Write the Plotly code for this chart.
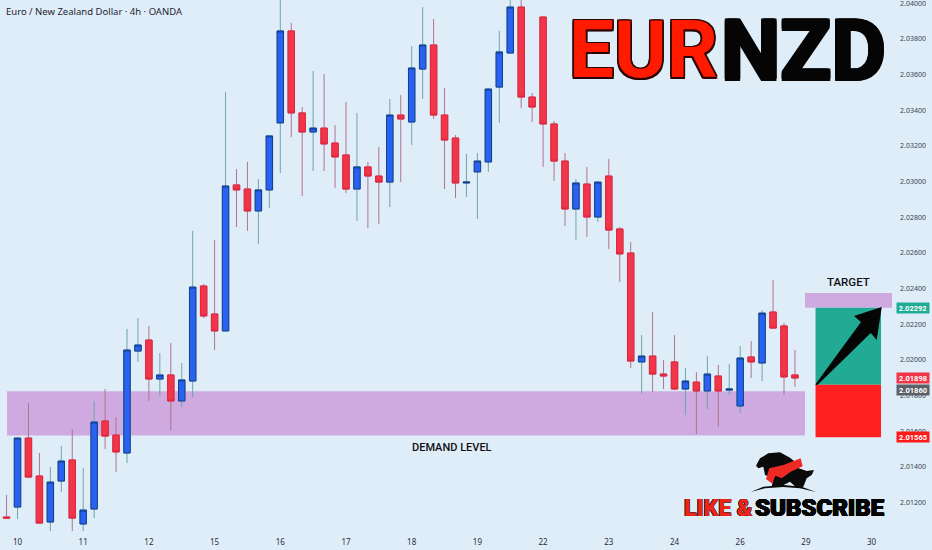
import plotly.graph_objects as go

# ---- data ----
candle_index = list(range(-1, 72))
open_ = [2.01118,2.01174,2.01561,2.01348,2.01090,2.01320,2.01438,2.01079,2.01163,2.01657,2.01578,2.01477,2.02049,2.02111,2.01892,2.01915,2.01769,2.01881,2.02414,2.02257,2.02162,2.02981,2.02958,2.02835,2.02953,2.03329,2.03845,2.03385,2.03278,2.03300,2.03216,2.03149,2.02958,2.03082,2.03031,2.02997,2.03373,2.03334,2.03631,2.03766,2.03373,2.03244,2.02992,2.03054,2.03110,2.03530,2.03721,2.03979,2.03474,2.03923,2.03323,2.03115,2.02846,2.02986,2.02801,2.03031,2.02734,2.02599,2.01988,2.02021,2.01920,2.01988,2.01836,2.01875,2.01825,2.01909,2.01830,2.01741,2.02016,2.01982,2.02268,2.02190,2.01915]
high = [2.01242,2.01561,2.01758,2.01477,2.01399,2.01516,2.01612,2.01393,2.01769,2.01836,2.01679,2.02173,2.02234,2.02190,2.02038,2.02094,2.01982,2.02723,2.02425,2.02672,2.03502,2.03070,2.03110,2.03014,2.03256,2.04075,2.03889,2.03418,2.03620,2.03603,2.03317,2.03446,2.03385,2.03110,2.03194,2.03463,2.03485,2.03760,2.03979,2.03912,2.03525,2.03261,2.03155,2.03160,2.03519,2.03845,2.04047,2.04047,2.03497,2.03923,2.03340,2.03160,2.03014,2.03082,2.02997,2.03126,2.02745,2.02661,2.02139,2.02268,2.01998,2.02139,2.01954,2.01931,2.02021,2.01971,2.01976,2.02077,2.02105,2.02279,2.02448,2.02207,2.02055]
low = [2.01112,2.01107,2.01337,2.01084,2.01039,2.01258,2.01039,2.01039,2.01112,2.01500,2.01371,2.01421,2.01988,2.01769,2.01797,2.01601,2.01735,2.01791,2.02234,2.02055,2.02162,2.02745,2.02723,2.02650,2.02852,2.03048,2.03250,2.02919,2.03059,2.03059,2.02964,2.02936,2.02779,2.02739,2.02762,2.02857,2.02997,2.03205,2.03463,2.03351,2.02958,2.02908,2.02913,2.02790,2.03054,2.03329,2.03721,2.03412,2.03334,2.03082,2.03003,2.02751,2.02672,2.02689,2.02773,2.02622,2.02437,2.01954,2.01808,2.01819,2.01836,2.01830,2.01690,2.01584,2.01724,2.01623,2.01803,2.01702,2.01898,2.01881,2.02173,2.01803,2.01848]
close = [2.01112,2.01561,2.01342,2.01084,2.01314,2.01432,2.01112,2.01157,2.01651,2.01572,2.01483,2.02055,2.02083,2.01892,2.01915,2.01769,2.01887,2.02408,2.02246,2.02162,2.02975,2.02953,2.02835,2.02953,2.03256,2.03845,2.03385,2.03278,2.03300,2.03211,2.03138,2.02958,2.03082,2.03031,2.02997,2.03373,2.03351,2.03637,2.03766,2.03373,2.03233,2.02992,2.02997,2.03115,2.03519,2.03727,2.03979,2.03474,2.03418,2.03323,2.03115,2.02846,2.02992,2.02801,2.02997,2.02728,2.02594,2.01993,2.02021,2.01920,2.01909,2.01836,2.01881,2.01825,2.01920,2.01825,2.01836,2.02010,2.01988,2.02262,2.02178,2.01904,2.01898]

price_ticks = [2.012,2.014,2.016,2.018,2.020,2.022,2.024,2.026,2.028,2.030,2.032,2.034,2.036,2.038,2.040]
day_ticks = list(range(0, 84, 6))
day_labels = ["10","11","12","15","16","17","18","19","22","23","24","26","29","30"]

demand_top, demand_bottom = 2.01823, 2.01576
target_top, target_bottom = 2.02375, 2.02292
entry_price, stop_price = 2.01860, 2.01565
tag_prices = [2.02292, 2.01898, 2.01860, 2.01565]
tag_colors = ["#22ab94", "#f23645", "#5d6066", "#ff1a1a"]
tag_shift = [0, 0, -5, 0]

# ---- layout helpers ----
W, H = 932, 550
BG = "#dfedf9"
def px(x, y):
    return x / W, 1 - y / H
def path(points):
    pts = [px(*p) for p in points]
    return "M" + "L".join(f"{a:.5f},{b:.5f}" for a, b in pts) + "Z"
def zoomed(points):
    return [(740 + a / 3, 445 + b / 3) for a, b in points]

fig = go.Figure()
# wicks
fig.add_trace(go.Candlestick(
    x=candle_index, open=open_, high=high, low=low, close=close,
    increasing=dict(line=dict(color="#6fa6a6", width=1), fillcolor="rgba(0,0,0,0)"),
    decreasing=dict(line=dict(color="#b0738f", width=1), fillcolor="rgba(0,0,0,0)"),
    whiskerwidth=0, showlegend=False, hoverinfo="skip"))
# bodies
fig.add_trace(go.Candlestick(
    x=candle_index, open=open_, close=close,
    high=[max(a, b) for a, b in zip(open_, close)],
    low=[min(a, b) for a, b in zip(open_, close)],
    increasing=dict(line=dict(color="#123f8f", width=1), fillcolor="#2962f0"),
    decreasing=dict(line=dict(color="#e0263c", width=1), fillcolor="#f23548"),
    whiskerwidth=0, showlegend=False, hoverinfo="skip"))

band = "#ceaae0"
shapes = [
    dict(type="rect", xref="x", yref="y", x0=-0.96, x1=71.92, y0=demand_bottom, y1=demand_top,
         fillcolor=band, line_width=0, layer="below"),
    dict(type="rect", xref="x", yref="y", x0=71.92, x1=79.86, y0=target_bottom, y1=target_top,
         fillcolor=band, line_width=0, layer="below"),
    dict(type="rect", xref="x", yref="y", x0=72.88, x1=78.86, y0=entry_price, y1=target_bottom,
         fillcolor="#22ab94", line_width=0, layer="below"),
    dict(type="rect", xref="x", yref="y", x0=72.88, x1=78.86, y0=stop_price, y1=entry_price,
         fillcolor="#ff2020", line_width=0, layer="below"),
    # arrow
    dict(type="path", xref="paper", yref="paper", fillcolor="#050505", line_width=0,
         path=path([(815.3,384.6),(861,322),(854,316),(881.7,307),(876.7,340),(870.7,333),(817.5,385)])),
    # bull and bear logo
    dict(type="path", xref="paper", yref="paper", fillcolor="#0a0a0a", line_width=0,
         path=path(zoomed([(48,62),(60,40),(85,25),(120,22),(150,38),(165,50),(172,68),(200,78),(222,75),
                           (215,90),(200,100),(190,125),(170,128),(150,110),(120,125),(95,125),(100,100),
                           (75,90),(70,65),(55,70)]))),
    dict(type="path", xref="paper", yref="paper", fillcolor="#ee2a24", line_width=0,
         path=path(zoomed([(78,102),(88,70),(130,60),(182,40),(188,64),(152,80),(125,100),(106,92),(97,116)]))),
    dict(type="path", xref="paper", yref="paper", fillcolor="#0a0a0a", line_width=0,
         path=path(zoomed([(32,141),(70,125),(130,120),(185,125),(228,141),(180,130),(130,126),(75,130)]))),
]

def shadow(c, r=1.2):
    return ", ".join(f"{a*r}px {b*r}px 0 {c}" for a, b in
                     [(1,0),(-1,0),(0,1),(0,-1),(1,1),(-1,-1),(1,-1),(-1,1)])

def label(text, x, y, size, color, family="Roboto", weight=400, anchor="center", sh=None):
    a, b = px(x, y)
    return dict(text=text, xref="paper", yref="paper", x=a, y=b, xanchor=anchor, yanchor="middle",
                showarrow=False, borderpad=0,
                font=dict(size=size, color=color, family=family, weight=weight, shadow=sh or "none"))

anns = [
    label("Euro / New Zealand Dollar · 4h · OANDA", 5, 11, 9.5, "#1c2430", family="Noto Sans", anchor="left"),
    label("EUR", 719, 50, 80, "#ff1a00", family="Roboto", weight=700, anchor="right", sh=shadow("#2a0505", 1.5)),
    label("NZD", 720, 50, 84, "#050505", family="Roboto", weight=700, anchor="left", sh=shadow("#050505", 1.5)),
    label("LIKE &", 683, 508, 23, "#ee2418", family="Roboto", weight=900, anchor="left", sh=shadow("#222", 0.4)),
    label("SUBSCRIBE", 886, 508, 24, "#050505", family="Roboto", weight=900, anchor="right", sh=shadow("#050505", 0.4)),
    label("TARGET", 848, 282, 11.5, "#111", family="Roboto", weight=500),
    label("DEMAND LEVEL", 452, 447, 11, "#111", family="Roboto", weight=500),
]
for p, c, s in zip(tag_prices, tag_colors, tag_shift):
    anns.append(dict(text=f"{p:.5f}", xref="paper", yref="y", x=px(913, 0)[0], y=p, yshift=s,
                     xanchor="center", yanchor="middle", showarrow=False, bgcolor=c, borderpad=0,
                     width=32, height=10, align="center",
                     font=dict(size=7.5, color="white", family="Roboto", weight=700)))

fig.update_layout(
    width=W, height=H, margin=dict(l=0, r=0, t=0, b=0),
    paper_bgcolor=BG, plot_bgcolor=BG, boxmode="overlay", boxgap=0.16, showlegend=False,
    shapes=shapes, annotations=anns,
    xaxis=dict(range=[-1.598, 83.516], tickvals=day_ticks, ticktext=day_labels, showgrid=False,
               zeroline=False, rangeslider_visible=False, ticklabelposition="inside", ticks="",
               tickfont=dict(size=8, color="#2a2e39", family="Noto Sans")),
    yaxis=dict(range=[2.00933, 2.040185], side="right", tickvals=price_ticks, tickformat=".5f",
               showgrid=False, zeroline=False, ticklabelposition="inside", ticks="", ticklabelstandoff=3,
               ticklabeloverflow="allow",
               tickfont=dict(size=7, color="#3a3f4a", family="Noto Sans")),
)
fig.write_html("out.html", config=dict(displayModeBar=False),
               post_script="document.body.style.margin='0';document.body.style.background='%s';" % BG)
